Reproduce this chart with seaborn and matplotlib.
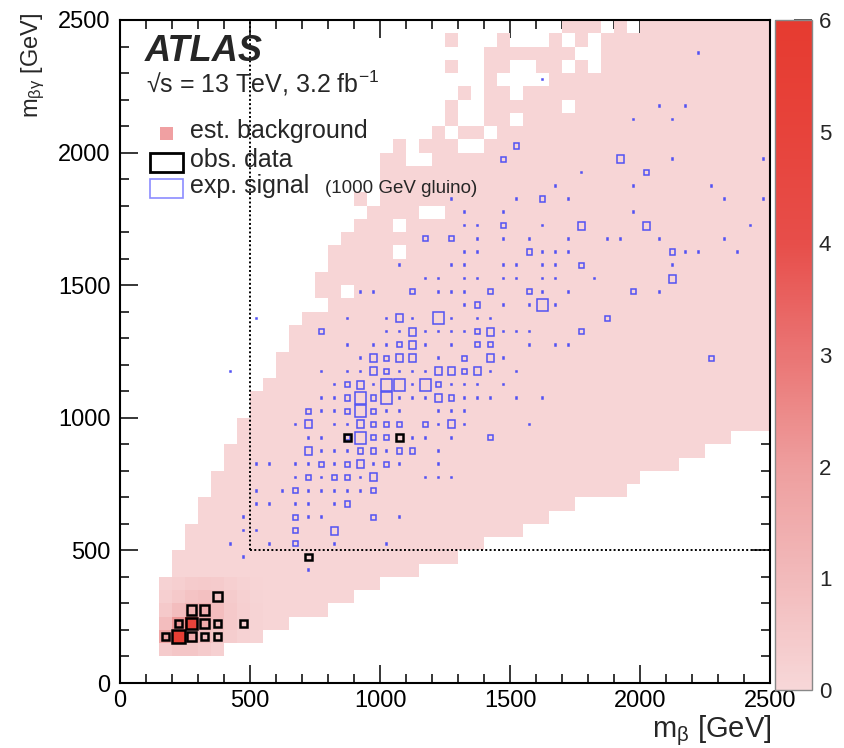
import numpy as np
import matplotlib
matplotlib.use("Agg")
import matplotlib.pyplot as plt
from matplotlib.colors import LinearSegmentedColormap
from matplotlib.patches import Rectangle
from matplotlib.ticker import MultipleLocator
import seaborn as sns

BIN = 50        # GeV, bin width in both directions
AX_MAX = 2500   # GeV

# ---------------- estimated background ----------------
# lower staircase of the populated region: columns [floor_x[k], floor_x[k+1]) start at floor_y[k]
floor_x = [150, 400, 550, 650, 800, 900, 1000, 1150, 1300, 1400, 1550,
           1650, 1750, 1950, 2000, 2150, 2250, 2350, 2500]
floor_y = [100, 150, 200, 250, 300, 350, 400, 450, 500, 550,
           600, 650, 700, 750, 800, 850, 900, 950]

# first populated m_beta bin for each m_beta_gamma row (0, 50, ..., 2450); None = empty row
row_start = [None, None, 150, 150, 150, 150, 150, 150, 200, 200,
             250, 250, 300, 300, 350, 350, 400, 400, 450, 450,
             500, 500, 550, 600, 600, 650, 650, 700, 800, 750,
             750, 800, 800, 850, 900, 950, 1000, 1000, 1000, 1000,
             1150, 1200, 1400, 1400, 1400, 1400, 1400, 1400, 1650, 1700]

# empty bins inside the populated rows (lower-left corners, GeV)
empty_cells = [(850, 1450), (1050, 1600), (1050, 1700), (1150, 1750), (1200, 1750),
               (1100, 1950), (1150, 1950), (1300, 2000), (1350, 2000),
               (1250, 2050), (1400, 2050), (1500, 2100), (1700, 2150), (1500, 2200),
               (1450, 2250), (1500, 2250), (1550, 2250), (1600, 2250),
               (1500, 2300), (1550, 2300), (1700, 2300), (1800, 2300),
               (1750, 2350), (1800, 2350), (1700, 2400), (1800, 2400),
               (1850, 2450), (1950, 2450)]

# isolated populated bins left of the row start
lone_cells = [(900, 1800), (1050, 2000), (1250, 2100), (1250, 2150), (1300, 2200),
              (1250, 2300), (1250, 2400), (1450, 2400)]

bkg_level = 0.08   # typical expected background per bin

# low-mass corner, where the background is largest
core_x = [150, 200, 250, 300, 350, 400, 450, 500]
core_y = [100, 150, 200, 250, 300, 350]
core_vals = [[0.40, 0.60, 0.60, 0.40, 0.25, 0.15, 0.12, 0.10],
             [1.80, 5.60, 1.50, 0.90, 0.60, 0.35, 0.20, 0.12],
             [0.90, 2.20, 5.00, 1.50, 0.90, 0.50, 0.30, 0.15],
             [0.50, 0.90, 1.30, 1.40, 0.90, 0.50, 0.30, 0.15],
             [0.30, 0.50, 0.70, 0.80, 0.70, 0.40, 0.25, 0.12],
             [0.20, 0.30, 0.40, 0.45, 0.40, 0.30, 0.18, 0.10]]

# ---------------- observed data (events per bin) ----------------
obs_mb = [150, 200, 250, 300, 350, 200, 250, 300, 350, 450, 250, 300, 350, 700, 850, 1050]
obs_mbg = [150, 150, 150, 150, 150, 200, 200, 200, 200, 200, 250, 250, 300, 450, 900, 900]
obs_n = [1, 4, 2, 1, 1, 1, 3, 2, 1, 1, 2, 2, 2, 1, 1, 1]

# ---------------- expected signal, 1000 GeV gluino ----------------
# expected events for the four bin populations shown, keyed by m_beta_gamma row -> m_beta bins
sig_levels = {"xl": 0.042, "l": 0.019, "m": 0.008, "s": 0.0008}
sig_norm = 0.052
sig_xl = {900: [900], 1000: [900], 1050: [900, 1000], 1100: [1000, 1050, 1150],
          1350: [1200], 1400: [1600]}
sig_l = {550: [800], 750: [950], 800: [900], 850: [700], 950: [700, 900, 1250],
         1050: [1200], 1100: [900], 1150: [950, 1200, 1250, 1350],
         1200: [950, 1050, 1100, 1400], 1250: [1100], 1300: [1100, 1400],
         1350: [1050], 1500: [2100], 1700: [1750, 2000], 1950: [1900]}
sig_m = {500: [650], 550: [650], 600: [650, 950], 650: [850], 700: [650, 950],
         750: [700, 800, 850], 800: [750, 850, 1000], 850: [900, 950, 1050, 1100],
         900: [850, 950, 1000, 1400], 950: [950, 1000, 1050, 1150],
         1000: [700, 850, 950], 1050: [850, 950, 1250], 1100: [850, 1200],
         1150: [1000, 1300], 1200: [1000, 1300, 2250], 1250: [1050, 1350, 1400],
         1300: [750, 1350, 1750], 1350: [1850], 1400: [1350],
         1450: [1100, 1400, 1550, 1950], 1550: [1750], 1600: [1550, 2100],
         1650: [1150, 1250], 1700: [1450], 1800: [1600], 1900: [2000],
         1950: [1450], 2000: [1500]}
sig_s = {400: [700], 450: [450], 500: [400, 550, 800, 1000], 550: [450, 500],
         600: [450, 700, 750, 1050], 650: [500, 550, 650, 700, 800],
         700: [500, 600, 700, 750, 800, 850, 900],
         750: [650, 750, 900, 1150, 1200, 1250],
         800: [500, 550, 650, 700, 800, 950, 1050, 1200],
         850: [750, 800, 850, 1000, 1200], 900: [700, 750, 1100, 1150, 1250],
         950: [650, 800, 850, 1200, 1300, 1550],
         1000: [750, 800, 1000, 1050, 1200, 1250, 1300],
         1050: [750, 800, 1050, 1100, 1150, 1300, 1350, 1400, 1500, 1600],
         1100: [800, 950, 1100, 1250, 1300, 1350, 1450],
         1150: [400, 750, 850, 900, 1050, 1100, 1150, 1400, 1500],
         1200: [900, 1200, 1450],
         1250: [850, 950, 1000, 1150, 1250, 1550, 1650, 1700],
         1300: [1000, 1050, 1150, 1200, 1250, 1300, 1450, 1500, 1550],
         1350: [500, 850, 1000, 1100, 1250, 1350, 1400],
         1400: [1300, 1450, 1550, 1650],
         1450: [900, 950, 1200, 1250, 1300, 1600, 1700, 2050],
         1500: [1150, 1200, 1300, 1350, 1450, 1500, 1600, 1650, 1800],
         1550: [1050, 1250, 1300, 1450, 1500, 1600, 1650, 2100],
         1600: [1300, 1350, 1600, 1650, 1700, 2150, 2200, 2350],
         1650: [1350, 1450, 1550, 1700, 1850, 1900, 2050, 2300],
         1700: [1300, 1350, 1600, 2400], 1750: [1300, 1450, 1950],
         1800: [1250, 1500, 1700, 2300, 2450], 1850: [1650, 1950, 2250],
         1900: [1750], 1950: [2100, 2450], 2100: [1950, 2100], 2150: [2050, 2150],
         2250: [1600], 2350: [2200]}

cut_mb, cut_mbg = 500, 500   # signal-region boundary (dotted)

# ---------------- build background bins ----------------
def column_floor(x):
    for k in range(len(floor_y)):
        if floor_x[k] <= x < floor_x[k + 1]:
            return floor_y[k]
    return AX_MAX

cells = {}
for j, start in enumerate(row_start):
    if start is None:
        continue
    for x in range(start, AX_MAX, BIN):
        cells[(x, j * BIN)] = bkg_level
for c in lone_cells:
    cells[c] = bkg_level
for c in empty_cells:
    cells.pop(c, None)
cells = {(x, y): v for (x, y), v in cells.items() if y >= column_floor(x)}
for r, y in enumerate(core_y):
    for c, x in enumerate(core_x):
        if (x, y) in cells:
            cells[(x, y)] = core_vals[r][c]

bx = [x + BIN / 2 for (x, y) in cells]
by = [y + BIN / 2 for (x, y) in cells]
bw = list(cells.values())

# ---------------- style ----------------
sns.set_style("ticks")
plt.rcParams["font.family"] = ["Liberation Sans", "DejaVu Sans"]
plt.rcParams["mathtext.fontset"] = "custom"
plt.rcParams["mathtext.rm"] = "Liberation Sans"
plt.rcParams["mathtext.it"] = "Liberation Sans:italic"
plt.rcParams["mathtext.bf"] = "Liberation Sans:bold"
plt.rcParams["mathtext.default"] = "regular"

cmap = LinearSegmentedColormap.from_list(
    "bkg", [(0.0, "#f7d7d8"), (1 / 6, "#f2babb"), (2 / 6, "#ee9e9e"),
            (3 / 6, "#ea7574"), (4 / 6, "#e74e4a"), (5 / 6, "#e7433b"),
            (1.0, "#e63b30")])

W, H = 844, 748
def px_rect(l, t, r, b):
    return [l / W, 1 - b / H, (r - l) / W, (b - t) / H]

fig = plt.figure(figsize=(W / 100, H / 100), dpi=100)
ax = fig.add_axes(px_rect(120, 20, 770, 683))
cax = fig.add_axes(px_rect(775, 20, 812, 690))

sns.histplot(x=bx, y=by, weights=bw, binwidth=BIN,
             binrange=((0, AX_MAX), (0, AX_MAX)), cmap=cmap,
             vmin=0, vmax=6, ax=ax, zorder=1)
mesh = ax.collections[-1]
mesh.set_clim(0, 6)

# signal-region boundary
ax.plot([cut_mb, cut_mb], [cut_mbg, AX_MAX], color="black", lw=1.4,
        ls=(0, (1, 1.2)), zorder=2)
ax.plot([cut_mb, AX_MAX], [cut_mbg, cut_mbg], color="black", lw=1.4,
        ls=(0, (1, 1.2)), zorder=2)

def add_box(xlow, ylow, frac, **kw):
    s = BIN * frac
    ax.add_patch(Rectangle((xlow + BIN / 2 - s / 2, ylow + BIN / 2 - s / 2), s, s,
                           fill=False, **kw))

SIG_COLOR = "#5252f4"
for key, table in (("s", sig_s), ("m", sig_m), ("l", sig_l), ("xl", sig_xl)):
    frac = np.sqrt(sig_levels[key] / sig_norm)
    for ylow, xs in table.items():
        for xlow in xs:
            add_box(xlow, ylow, frac, edgecolor=SIG_COLOR, lw=1.1, zorder=3)

obs_max = max(obs_n)
for xlow, ylow, n in zip(obs_mb, obs_mbg, obs_n):
    add_box(xlow, ylow, np.sqrt(n / obs_max), edgecolor="black", lw=1.8, zorder=4)

# ---------------- axes ----------------
ax.set_xlim(0, AX_MAX)
ax.set_ylim(0, AX_MAX)
ax.set_xlabel("")
ax.set_ylabel("")
ax.xaxis.set_major_locator(MultipleLocator(500))
ax.yaxis.set_major_locator(MultipleLocator(500))
ax.xaxis.set_minor_locator(MultipleLocator(100))
ax.yaxis.set_minor_locator(MultipleLocator(100))
ax.tick_params(which="both", direction="in", top=True, right=True, colors="black",
               width=1.1, labelsize=17)
ax.tick_params(which="major", length=13)
ax.tick_params(which="minor", length=6.5)
ax.tick_params(axis="x", pad=5)
ax.tick_params(axis="y", pad=7)
for sp in ax.spines.values():
    sp.set_linewidth(1.5)
    sp.set_color("black")
    sp.set_visible(True)

cbar = fig.colorbar(mesh, cax=cax, ticks=range(7))
cbar.outline.set_edgecolor("#888888")
cbar.outline.set_linewidth(1.0)
cax.tick_params(direction="in", length=13, width=1.1, labelsize=16, right=True,
                left=False, pad=5)

fig.text(772 / W, 1 - 737 / H, r"m$_{β}$ [GeV]", ha="right", va="baseline", fontsize=21)
fig.text(33 / W, 1 - 12 / H, r"m$_{βγ}$ [GeV]", ha="center", va="top",
         rotation=90, fontsize=17)

# ---------------- labels and legend ----------------
def axpos(px, py):
    return ((px - 120) / 650, (683 - py) / 663)

ax.text(*axpos(145, 61), "ATLAS", transform=ax.transAxes, fontsize=26,
        fontweight="bold", fontstyle="italic", va="baseline", ha="left", zorder=6)
ax.text(*axpos(146, 92), r"√s = 13 TeV, 3.2 fb$^{-1}$", transform=ax.transAxes,
        fontsize=18, va="baseline", ha="left", zorder=6)

x0, y0 = axpos(160, 140)
ax.add_patch(Rectangle((x0, y0), 13 / 650, 13 / 663, transform=ax.transAxes,
                       facecolor="#f0a0a2", edgecolor="none", zorder=6))
x0, y0 = axpos(150, 172)
ax.add_patch(Rectangle((x0, y0), 33 / 650, 19 / 663, transform=ax.transAxes,
                       fill=False, edgecolor="black", lw=2.0, zorder=6))
x0, y0 = axpos(150, 198)
ax.add_patch(Rectangle((x0, y0), 33 / 650, 19 / 663, transform=ax.transAxes,
                       fill=False, edgecolor="#8c8cff", lw=1.2, zorder=6))

ax.text(*axpos(190, 138), "est. background", transform=ax.transAxes, fontsize=18,
        va="baseline", ha="left", zorder=6)
ax.text(*axpos(190, 167), "obs. data", transform=ax.transAxes, fontsize=18,
        va="baseline", ha="left", zorder=6)
ax.text(*axpos(190, 193), "exp. signal", transform=ax.transAxes, fontsize=18,
        va="baseline", ha="left", zorder=6)
ax.text(*axpos(325, 193), "(1000 GeV gluino)", transform=ax.transAxes, fontsize=13.5,
        va="baseline", ha="left", zorder=6)

fig.savefig("out.png", dpi=100)
